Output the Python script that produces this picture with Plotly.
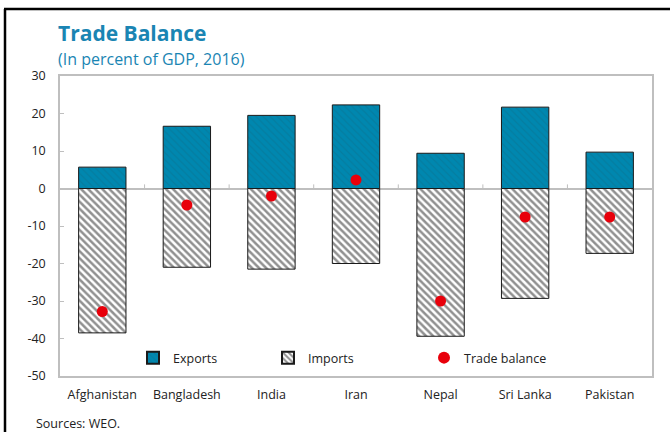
import plotly.graph_objects as go

# Trade components, percent of GDP (2016)
countries = ["Afghanistan", "Bangladesh", "India", "Iran", "Nepal", "Sri Lanka", "Pakistan"]
exports = [5.7, 16.6, 19.5, 22.3, 9.4, 21.7, 9.7]
imports = [-38.5, -21.0, -21.5, -20.0, -39.4, -29.3, -17.3]
trade_balance = [-32.8, -4.4, -2.0, 2.3, -30.0, -7.6, -7.6]
y_ticks = [30, 20, 10, 0, -10, -20, -30, -40, -50]
y_tick_text = [str(v) for v in y_ticks]

TEAL = "#0087AF"
TITLE_BLUE = "#1A85B3"
GRID = "#BFBFBF"
FONT = "Open Sans"
TXT = "#222222"

# pixel layout of the plotting area
W, H = 670, 432
ML, MR, MT, MB = 60, 18, 76, 56
PW, PH = W - ML - MR, H - MT - MB


def px_x(X):
    return (X - ML) / PW


def px_y(Y):
    return (H - MB - Y) / PH


fig = go.Figure()

fig.add_trace(go.Bar(
    x=countries, y=exports, name="Exports", legend="legend",
    marker=dict(
        color=TEAL,
        line=dict(color="#1a1a1a", width=1),
        pattern=dict(shape="\\", size=5, solidity=0.25,
                     fgcolor="#0A7392", bgcolor=TEAL),
    ),
))

fig.add_trace(go.Bar(
    x=countries, y=imports, name="Imports", legend="legend2",
    marker=dict(
        color="white",
        line=dict(color="#1a1a1a", width=1),
        pattern=dict(shape="\\", size=5, solidity=0.5,
                     fgcolor="#222222", bgcolor="white"),
    ),
))

fig.add_trace(go.Scatter(
    x=countries, y=trade_balance, name="Trade balance", mode="markers",
    legend="legend3",
    marker=dict(color="#E8000B", size=11, symbol="circle"),
))

# small tick marks on the zero line between categories
shapes = []
for i in range(len(countries) - 1):
    shapes.append(dict(type="line", xref="x", yref="y",
                       x0=i + 0.5, x1=i + 0.5, y0=0, y1=1.1,
                       line=dict(color=GRID, width=1), layer="below"))

# outer frame (top and left edges)
shapes.append(dict(type="line", xref="paper", yref="paper",
                   x0=px_x(4), x1=px_x(672), y0=px_y(9), y1=px_y(9),
                   line=dict(color="black", width=2.5)))
shapes.append(dict(type="line", xref="paper", yref="paper",
                   x0=px_x(5), x1=px_x(5), y0=px_y(9), y1=px_y(434),
                   line=dict(color="black", width=2.5)))

annotations = [
    dict(text="<b>Trade Balance</b>", xref="paper", yref="paper",
         x=px_x(56), y=px_y(33), xanchor="left", yanchor="middle",
         showarrow=False, font=dict(family=FONT, size=21, color=TITLE_BLUE)),
    dict(text="(In percent of GDP, 2016)", xref="paper", yref="paper",
         x=px_x(56), y=px_y(59), xanchor="left", yanchor="middle",
         showarrow=False, font=dict(family=FONT, size=16, color=TITLE_BLUE)),
    dict(text="Sources: WEO.", xref="paper", yref="paper",
         x=px_x(34), y=px_y(423), xanchor="left", yanchor="middle",
         showarrow=False, font=dict(family=FONT, size=12.5, color=TXT)),
]


def legend_at(X):
    return dict(orientation="h", x=px_x(X), y=px_y(358),
                xanchor="left", yanchor="middle", itemsizing="constant",
                bgcolor="rgba(0,0,0,0)",
                font=dict(family=FONT, size=12.5, color=TXT))


fig.update_layout(
    width=W, height=H,
    margin=dict(l=ML, r=MR, t=MT, b=MB),
    paper_bgcolor="white", plot_bgcolor="white",
    font=dict(family=FONT, size=12.5, color=TXT),
    barmode="relative", bargap=0.44,
    showlegend=True,
    legend=legend_at(133),
    legend2=legend_at(268),
    legend3=legend_at(424),
    shapes=shapes,
    annotations=annotations,
)

fig.update_xaxes(
    type="category", showgrid=False, showline=True, linecolor=GRID,
    linewidth=1.5, mirror=True, ticks="outside", ticklen=6,
    tickcolor="rgba(0,0,0,0)", tickfont=dict(size=12.5),
)

fig.update_yaxes(
    range=[-50, 30], tickvals=y_ticks, ticktext=y_tick_text, showgrid=False,
    showline=True, linecolor=GRID, linewidth=1.5, mirror=True,
    ticks="inside", ticklen=4, tickcolor=GRID,
    zeroline=True, zerolinecolor=GRID, zerolinewidth=1.5,
    ticklabelstandoff=10, tickfont=dict(size=12.5),
)

fig.write_html("out.html")
